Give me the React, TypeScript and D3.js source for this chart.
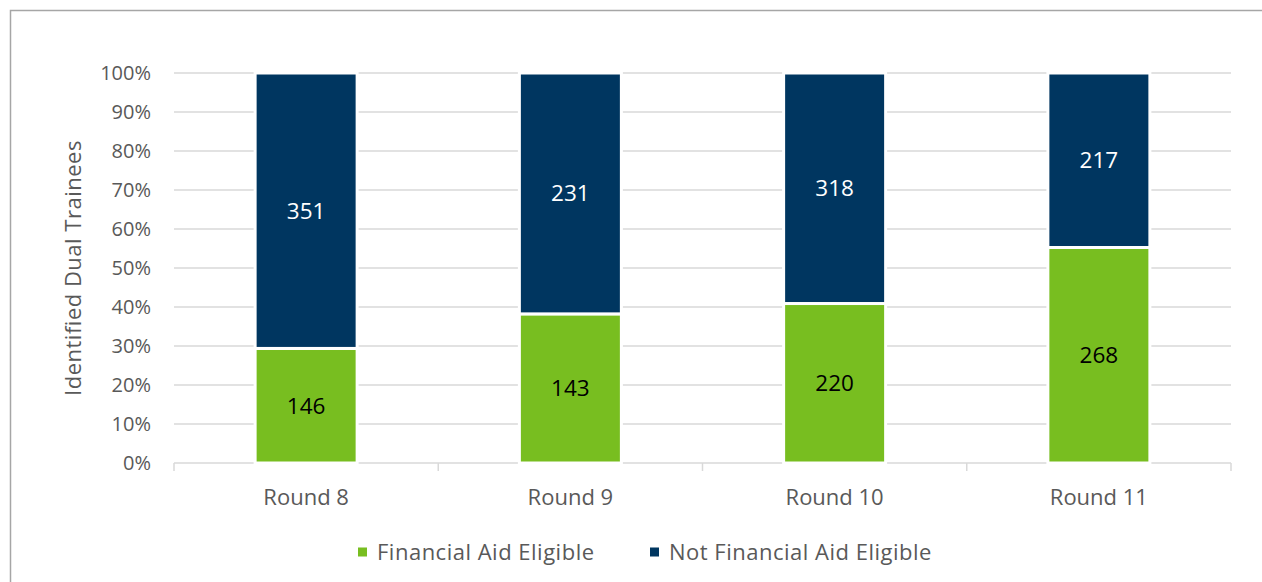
import React from 'react';
import * as d3 from 'd3';

const rounds = ['Round 8', 'Round 9', 'Round 10', 'Round 11'];
const eligible = [146, 143, 220, 268];
const notEligible = [351, 231, 318, 217];
const seriesNames = ['Financial Aid Eligible', 'Not Financial Aid Eligible'];
const seriesColors = ['#78BE20', '#003660'];
const yTicks = [0, 0.1, 0.2, 0.3, 0.4, 0.5, 0.6, 0.7, 0.8, 0.9, 1];

const W = 1262;
const H = 582;
const margin = { top: 73, right: 31, bottom: 119, left: 174 };
const FONT = '"Open Sans", "Noto Sans", sans-serif';

const App: React.FC = () => {
  const innerW = W - margin.left - margin.right;
  const innerH = H - margin.top - margin.bottom;

  const x = d3.scaleBand<string>().domain(rounds).range([0, innerW]).paddingInner(0.614).paddingOuter(0.307);
  const y = d3.scaleLinear().domain([0, 1]).range([innerH, 0]);

  const rows = rounds.map((r, i) => ({ round: r, eligible: eligible[i], notEligible: notEligible[i] }));
  const stack = d3.stack<any>().keys(['eligible', 'notEligible']).offset(d3.stackOffsetExpand);
  const layers = stack(rows);

  const step = innerW / rounds.length;

  return (
    <svg width={W} height={H} style={{ position: 'absolute', left: 0, top: 0, background: '#fff' }}>
      <rect x={10.5} y={10.5} width={W} height={H} fill="#fff" stroke="#a6a6a6" strokeWidth={1.5} />
      <g transform={`translate(${margin.left},${margin.top})`}>
        {yTicks.slice(1).map(t => (
          <line key={t} x1={0} x2={innerW} y1={y(t)} y2={y(t)} stroke="#d9d9d9" strokeWidth={1.5} />
        ))}
        {yTicks.map(t => (
          <text key={'l' + t} x={-23} y={y(t)} dy="0.35em" textAnchor="end" fontFamily={FONT} fontSize={20} fill="#595959">
            {d3.format('.0%')(t)}
          </text>
        ))}
        <line x1={0} x2={innerW} y1={innerH} y2={innerH} stroke="#d9d9d9" strokeWidth={1.5} />
        {d3.range(rounds.length + 1).map(i => (
          <line key={'t' + i} x1={i * step} x2={i * step} y1={innerH} y2={innerH + 8} stroke="#d9d9d9" strokeWidth={1.5} />
        ))}
        {layers.map((layer, li) => (
          <g key={layer.key}>
            {layer.map((d, i) => (
              <rect
                key={i}
                x={x(rounds[i])}
                y={y(d[1])}
                width={x.bandwidth()}
                height={y(d[0]) - y(d[1])}
                fill={seriesColors[li]}
                stroke="#fff"
                strokeWidth={3}
              />
            ))}
          </g>
        ))}
        {layers.map((layer, li) => (
          <g key={'v' + layer.key}>
            {layer.map((d, i) => (
              <text
                key={i}
                x={(x(rounds[i]) as number) + x.bandwidth() / 2}
                y={(y(d[0]) + y(d[1])) / 2}
                dy="0.35em"
                textAnchor="middle"
                fontFamily={FONT}
                fontSize={22.5}
                fill={li === 0 ? '#000' : '#fff'}
              >
                {li === 0 ? eligible[i] : notEligible[i]}
              </text>
            ))}
          </g>
        ))}
        {rounds.map(r => (
          <text key={r} x={(x(r) as number) + x.bandwidth() / 2} y={innerH + 34} dy="0.35em" textAnchor="middle" fontFamily={FONT} fontSize={22} fill="#595959">
            {r}
          </text>
        ))}
        <text
          transform={`translate(${73 - margin.left},${innerH / 2}) rotate(-90)`}
          dy="0.35em"
          textAnchor="middle"
          fontFamily={FONT}
          fontSize={22}
          letterSpacing={0.5}
          fill="#595959"
        >
          Identified Dual Trainees
        </text>
      </g>
      <g transform="translate(358,552)">
        <rect x={0} y={-4.5} width={9} height={9} fill={seriesColors[0]} />
        <text x={19} y={0} dy="0.35em" fontFamily={FONT} fontSize={22} letterSpacing={0.5} fill="#595959">{seriesNames[0]}</text>
        <rect x={292} y={-4.5} width={9} height={9} fill={seriesColors[1]} />
        <text x={311} y={0} dy="0.35em" fontFamily={FONT} fontSize={22} letterSpacing={0.5} fill="#595959">{seriesNames[1]}</text>
      </g>
    </svg>
  );
};

export default App;
